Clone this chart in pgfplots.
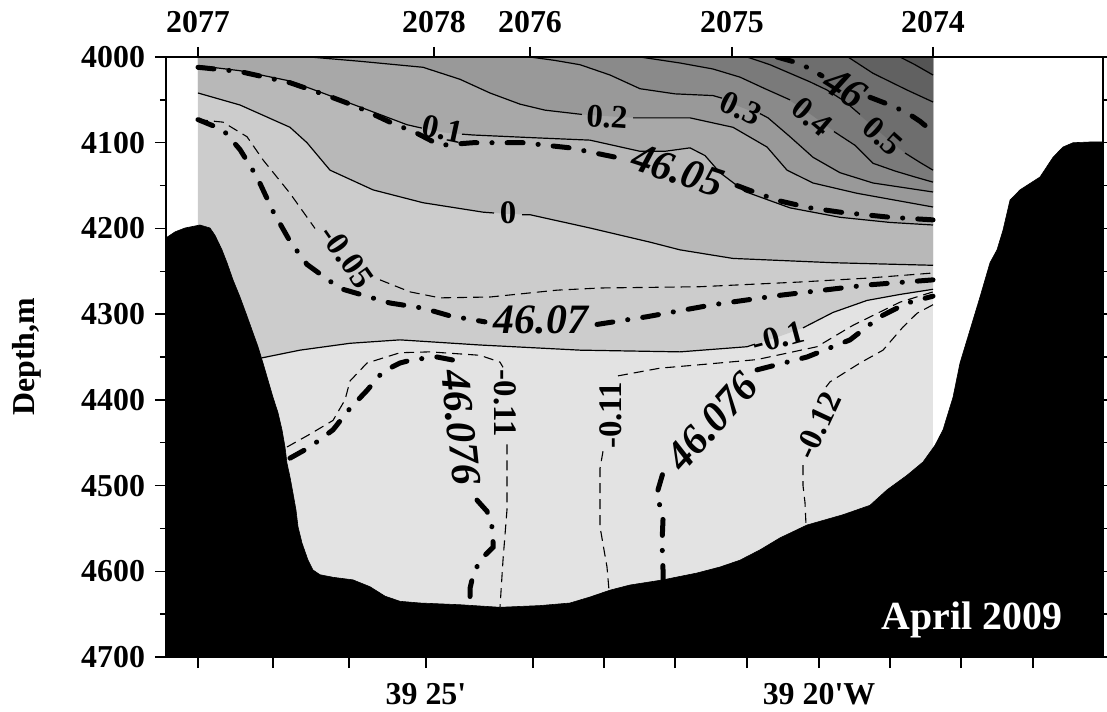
\documentclass[border=0pt]{standalone}
\usepackage{fontspec}
\setmainfont{Liberation Serif}
\usepackage{pgfplots}
\pgfplotsset{compat=1.18}

% shading of the bands between isolines (light = cold)
\definecolor{lev0}{gray}{0.89}
\definecolor{lev1}{gray}{0.80}
\definecolor{lev2}{gray}{0.72}
\definecolor{lev3}{gray}{0.66}
\definecolor{lev4}{gray}{0.60}
\definecolor{lev5}{gray}{0.54}
\definecolor{lev6}{gray}{0.48}
\definecolor{lev7}{gray}{0.43}
\definecolor{lev8}{gray}{0.38}
\definecolor{lev9}{gray}{0.33}

\tikzset{
  iso/.style={black, line width=0.6pt},
  isoneg/.style={black, line width=0.55pt, dash pattern=on 5bp off 3bp},
  sal/.style={black, line width=2.5bp, line cap=round, dash pattern=on 8bp off 7.5bp on 0.1bp off 7.5bp},
  lab/.style={font=\fontsize{16.5}{16.5}\selectfont\bfseries, inner sep=0pt},
  sallab/.style={font=\fontsize{21}{21}\selectfont\bfseries\itshape, inner sep=0pt},
}

\begin{document}
\begin{tikzpicture}
\begin{axis}[
  name=main,
  width=468.5bp, height=300bp, scale only axis,
  xmin=166, xmax=1103, ymin=4000, ymax=4700, y dir=reverse,
  axis on top,
  xtick={198,273,349,426,533,604,675,747,819,890,961,1033},
  xticklabels={,,,{39 25\textquotesingle},,,,,{39 20\textquotesingle W},,,},
  xtick pos=left,
  xticklabel style={yshift=-4bp},
  ytick={4000,4100,4200,4300,4400,4500,4600,4700},
  yticklabels={4000,4100,4200,4300,4400,4500,4600,4700},
  minor ytick={4050,4150,4250,4350,4450,4550,4650},
  ytick pos=both, yticklabel pos=left,
  yticklabel style={xshift=-1.5bp},
  tick align=outside, major tick length=5.5bp, minor tick length=3bp,
  tick style={black, line width=0.75bp},
  axis line style={line width=0.75bp},
  ticklabel style={font=\fontsize{16}{16}\selectfont\bfseries},
  ylabel={Depth,m},
  ylabel style={font=\fontsize{16}{16}\selectfont\bfseries, at={(rel axis cs:-0.149,0.5)}, anchor=center},
]

% ---- filled bands ----
\addplot[fill=lev0, draw=none] coordinates {(198,4000) (933,4000) (933,4700) (198,4700)} -- cycle;
% above -0.1
\addplot[fill=lev1, draw=none] coordinates {(198,4000) (933,4000) (933,4271) (900,4277) (867,4284) (833,4298) (803,4316) (777,4327) (747,4338) (680,4344) (580,4342) (480,4336) (400,4330) (350,4334) (300,4342) (262,4351) (198,4351)} -- cycle;
% above 0
\addplot[fill=lev2, draw=none] coordinates {(198,4000) (933,4000) (933,4243) (833,4240) (733,4235) (680,4225) (650,4216) (590,4199.5) (530,4184) (508,4183) (483,4181) (423,4170) (373,4155) (330,4132) (307,4100) (290,4082) (240,4056) (198,4042)} -- cycle;
% above 0.1
\addplot[fill=lev3, draw=none] coordinates {(198,4000) (933,4000) (933,4196) (890,4193) (840,4187) (790,4176) (745,4157) (720,4135) (705,4115) (690,4106) (665,4110) (640,4110) (590,4097) (530,4094) (473,4091) (443,4088) (407,4079) (357,4057) (325,4043) (290,4028) (240,4016) (198,4010)} -- cycle;
% above 0.2
\addplot[fill=lev4, draw=none] coordinates {(310,4000) (360,4005) (423,4012) (460,4026) (490,4042) (520,4055) (545,4062) (582,4067) (607,4069) (635,4071) (690,4071) (733,4082) (767,4105) (787,4132) (813,4147) (857,4159) (933,4175) (933,4000)} -- cycle;
% above 0.3
\addplot[fill=lev5, draw=none] coordinates {(530,4000) (555,4004) (580,4009) (610,4021) (640,4037) (675,4043) (713,4045) (740,4058) (768,4071) (790,4093) (813,4117) (840,4135) (873,4147) (933,4157.5) (933,4000)} -- cycle;
% above 0.4
\addplot[fill=lev6, draw=none] coordinates {(640,4000) (680,4007) (713,4014) (740,4023.5) (765,4037) (785,4047) (812,4068) (837,4089) (855,4103) (873,4124) (895,4133) (915,4140) (933,4146) (933,4000)} -- cycle;
% above 0.5
\addplot[fill=lev7, draw=none] coordinates {(747,4000) (770,4009) (790,4019) (810,4029) (827,4038.5) (845,4052) (857,4065) (883,4091) (907,4114) (920,4123) (933,4132) (933,4000)} -- cycle;
% above 0.6
\addplot[fill=lev8, draw=none] coordinates {(848,4000) (873,4019) (907,4038.5) (933,4052.5) (933,4000)} -- cycle;
% above 0.7
\addplot[fill=lev9, draw=none] coordinates {(900,4000) (915,4009) (933,4021) (933,4000)} -- cycle;

% ---- potential temperature isolines ----
\addplot[iso] coordinates {(900,4000) (915,4009) (933,4021)};
\addplot[iso] coordinates {(848,4000) (873,4019) (907,4038.5) (933,4052.5)};
\addplot[iso] coordinates {(747,4000) (770,4009) (790,4019) (810,4029) (827,4038.5) (845,4052) (860,4067)};
\addplot[iso] coordinates {(905,4112) (920,4123) (933,4132)};
\addplot[iso] coordinates {(640,4000) (680,4007) (713,4014) (740,4023.5) (765,4037) (790,4050)};
\addplot[iso] coordinates {(834,4087) (855,4103) (873,4124) (895,4133) (915,4140) (933,4146)};
\addplot[iso] coordinates {(530,4000) (555,4004) (580,4009) (610,4021) (640,4037) (675,4043) (713,4045) (722,4048)};
\addplot[iso] coordinates {(760,4066) (768,4071) (790,4093) (813,4117) (840,4135) (873,4147) (933,4157.5)};
\addplot[iso] coordinates {(310,4000) (360,4005) (423,4012) (460,4026) (490,4042) (520,4055) (545,4062) (582,4067)};
\addplot[iso] coordinates {(633,4071) (690,4071) (733,4082) (767,4105) (787,4132) (813,4147) (857,4159) (933,4175)};
\addplot[iso] coordinates {(198,4010) (240,4016) (290,4028) (325,4043) (357,4057) (407,4079) (422,4083)};
\addplot[iso] coordinates {(462,4090) (473,4091) (530,4094) (590,4097) (640,4110) (665,4110) (690,4106) (705,4115) (720,4135) (745,4157) (790,4176) (840,4187) (890,4193) (933,4196)};
\addplot[iso] coordinates {(198,4042) (240,4056) (290,4082) (307,4100) (330,4132) (373,4155) (423,4170) (483,4181) (494,4182)};
\addplot[iso] coordinates {(522,4184) (530,4184) (590,4199.5) (650,4216) (680,4225) (733,4235) (833,4240) (933,4243)};
\addplot[iso] coordinates {(262,4351) (300,4342) (350,4334) (400,4330) (480,4336) (580,4342) (680,4344) (747,4338) (755,4335)};
\addplot[iso] coordinates {(803,4316) (833,4298) (867,4284) (900,4277) (933,4271)};

\addplot[isoneg] coordinates {(198,4073) (223,4076) (247,4093) (263,4120) (290,4159) (315,4200)};
\addplot[isoneg] coordinates {(380,4260) (410,4274) (440,4281) (490,4280) (557,4272) (600,4269.5) (700,4268) (800,4262.5) (867,4258) (933,4252)};
\addplot[isoneg] coordinates {(287,4455) (310,4440) (333,4424) (345,4400) (350,4378) (367,4357) (400,4345) (430,4344) (480,4348) (500,4356) (503,4362)};
\addplot[isoneg] coordinates {(507,4452) (507,4482) (507,4528) (503,4587) (500,4642)};
\addplot[isoneg] coordinates {(618,4372) (660,4363) (700,4359) (757,4353) (817,4338) (853,4313) (900,4286) (933,4274)};
\addplot[isoneg] coordinates {(603,4460) (600,4480) (600,4548) (604,4575) (607,4595) (609,4622)};
\addplot[isoneg] coordinates {(933,4289) (917,4299) (903,4315) (883,4342) (860,4357) (830,4379) (826,4385)};
\addplot[isoneg] coordinates {(803,4476) (803,4500) (805,4520) (806,4546)};

% ---- salinity isolines ----
\addplot[sal] coordinates {(777,4000) (795,4006) (807,4012) (822,4022)};
\addplot[sal] coordinates {(870,4047) (890,4056) (907,4065) (920,4075) (933,4087.5)};
\addplot[sal] coordinates {(198,4012) (240,4017) (290,4030) (325,4044) (357,4058) (390,4076) (417,4089) (440,4103) (473,4100) (523,4100) (570,4106) (620,4118)};
\addplot[sal] coordinates {(737,4150) (760,4160) (780,4168) (810,4176) (840,4181) (890,4187) (933,4190)};
\addplot[sal] coordinates {(198,4073) (223,4085) (240,4108) (257,4140) (273,4180) (290,4215) (307,4242) (340,4270) (390,4287) (423,4293) (450,4302) (485,4309)};
\addplot[sal] coordinates {(597,4312) (647,4303) (713,4289) (780,4278) (867,4266) (933,4260)};
\addplot[sal] coordinates {(290,4468) (310,4455) (333,4435) (350,4410) (367,4389) (383,4367) (400,4357) (413,4353) (437,4350) (455,4354) (463,4358)};
\addplot[sal] coordinates {(477,4517) (487,4530) (493,4552) (493,4572) (480,4587) (473,4605) (470,4620) (470,4636)};
\addplot[sal] coordinates {(663,4612) (663,4598) (662,4567) (663,4540) (657,4509) (663,4485) (668,4476)};
\addplot[sal] coordinates {(757,4365) (807,4350) (850,4330) (880,4303) (907,4287) (933,4279)};

% ---- bottom topography ----
\addplot[fill=black, draw=black, line width=0.3pt] coordinates {
  (166,4211) (175,4204) (185,4199.5) (200,4196) (210,4199.5) (215,4208) (222,4225)
  (227,4240) (233,4260) (240,4280) (246,4299) (252,4318.5) (258,4338) (263,4357)
  (268,4377) (273,4397) (278,4415) (282,4435) (285,4455) (287,4474) (290,4490)
  (293,4509) (296,4528.5) (298,4548) (302,4567) (308,4587) (313,4598.5) (320,4604)
  (333,4607) (353,4610) (370,4618) (385,4629) (400,4635) (420,4637) (460,4639)
  (500,4642) (540,4640) (570,4637) (590,4630) (610,4622) (630,4616) (663,4610)
  (697,4602) (720,4595) (740,4587) (760,4575) (780,4561) (807,4546) (843,4534)
  (870,4523) (887,4505) (907,4488) (923,4472.5) (935,4453) (943,4435) (953,4397)
  (960,4357) (970,4318.5) (980,4280) (990,4240) (997,4225) (1003,4202) (1010,4167)
  (1020,4155) (1040,4140) (1053,4117) (1063,4105) (1073,4100) (1093,4099) (1103,4099)
  (1103,4700) (166,4700)} -- cycle;

% ---- isoline labels ----
\node[lab, rotate=-12] at (axis cs:443,4084) {0.1};
\node[lab, rotate=-4] at (axis cs:607,4070) {0.2};
\node[lab, rotate=-25] at (axis cs:741,4060) {0.3};
\node[lab, rotate=-40] at (axis cs:812,4070) {0.4};
\node[lab, rotate=-42] at (axis cs:883,4092) {0.5};
\node[lab] at (axis cs:508,4182) {0};
\node[lab, rotate=-55] at (axis cs:347,4233) {-0.05};
\node[lab, rotate=15] at (axis cs:778,4327) {-0.1};
\node[lab, rotate=-90] at (axis cs:505,4404) {-0.11};
\node[lab, rotate=90] at (axis cs:611,4418) {-0.11};
\node[lab, rotate=65] at (axis cs:818,4430) {-0.12};
\node[sallab, rotate=-32] at (axis cs:845,4036) {46};
\node[sallab, rotate=-18] at (axis cs:678,4132) {46.05};
\node[sallab] at (axis cs:541,4307) {46.07};
\node[sallab, rotate=-84] at (axis cs:461,4432) {46.076};
\node[sallab, rotate=48] at (axis cs:712,4425) {46.076};

\node[font=\fontsize{20}{20}\selectfont\bfseries, text=white] at (axis cs:972,4657) {April 2009};
\end{axis}

% station numbers along the top
\begin{axis}[
  width=468.5bp, height=300bp, scale only axis,
  xmin=166, xmax=1103, ymin=4000, ymax=4700, y dir=reverse,
  axis x line*=top, axis y line=none,
  xtick={198,434,530,732,933},
  xticklabels={2077,2078,2076,2075,2074},
  xticklabel style={yshift=3.5bp},
  tick align=outside, major tick length=5bp,
  tick style={black, line width=0.75bp},
  axis line style={line width=0.75bp},
  ticklabel style={font=\fontsize{16}{16}\selectfont\bfseries},
]
\addplot[draw=none] coordinates {(500,4100)};
\end{axis}

\pgfresetboundingbox
\path[use as bounding box] ([shift={(-83bp,-27.5bp)}]main.south west) rectangle ([shift={(470.5bp,328.5bp)}]main.south west);
\end{tikzpicture}
\end{document}
